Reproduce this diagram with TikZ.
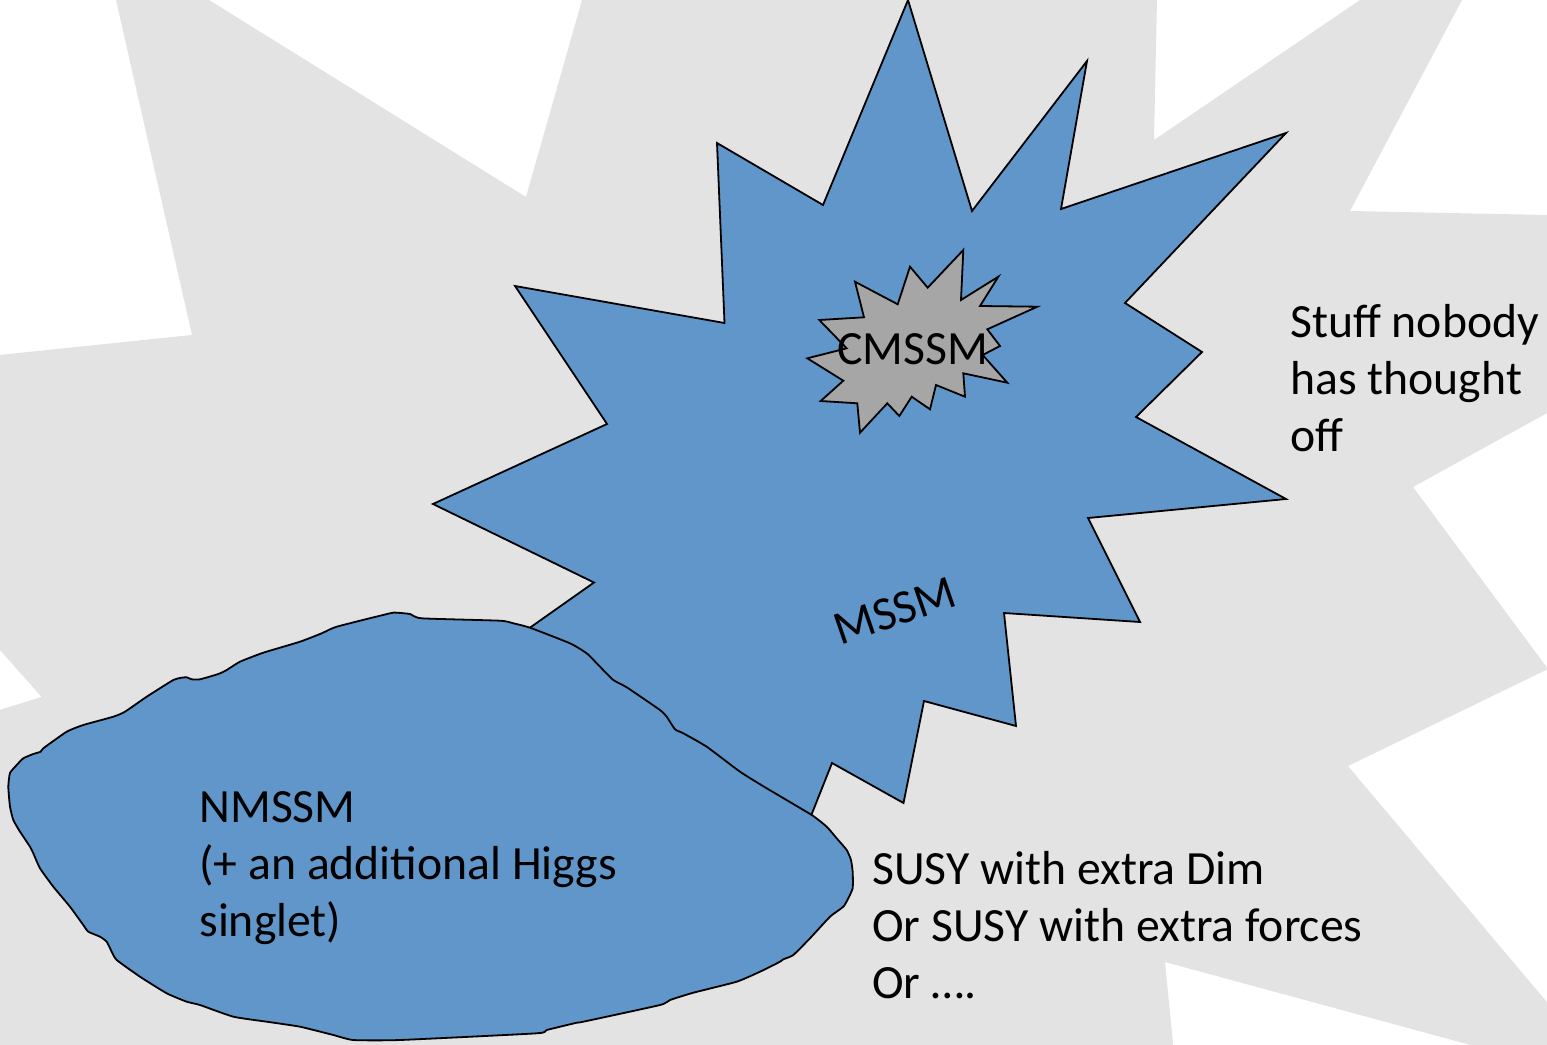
\documentclass[tikz,border=0pt]{standalone}
\usepackage{fontspec}
\setmainfont{Carlito}
\definecolor{bggray}{HTML}{E3E3E3}
\definecolor{skyblue}{HTML}{6096C9}
\definecolor{stargray}{HTML}{A6A6A6}
\begin{document}
\begin{tikzpicture}[x=0.5pt,y=-0.5pt,
  outline/.style={draw=black,line width=0.9pt,line join=miter,miter limit=20},
  bgstar/.style={fill=bggray},
  mssmstar/.style={outline,fill=skyblue},
  cmssmstar/.style={outline,fill=stargray},
  nmssmblob/.style={outline,fill=skyblue,line join=round},
  txt/.style={inner sep=0pt,font=\fontsize{23.85}{28.6}\selectfont},
]
\useasboundingbox (0,0) rectangle (1547,1044);
\begin{scope}
\clip (0,0) rectangle (1547,1044);
\fill[white] (0,0) rectangle (1547,1044);
% large light-grey explosion in the background
\fill[bgstar] (192,335) -- (111.5,-20) -- (176.8,-20) -- (526,197) -- (587.7,-20)
  -- (1157.4,-20) -- (1154,140) -- (1389.4,-20) -- (1472.6,-20) -- (1350,211)
  -- (1567,215.4) -- (1567,402) -- (1413,487) -- (1548,669) -- (1348,766)
  -- (1567,1026) -- (1567,1071) -- (1467,1044) -- (1165,962) -- (1175,1064)
  -- (-20,1064) -- (-20,716) -- (41.7,697) -- (-20,627.5) -- (-20,357) -- cycle;
% MSSM explosion
\draw[mssmstar] (908,0) -- (972,211) -- (1087,61) -- (1061,209) -- (1286,133)
  -- (1125,303) -- (1202,352) -- (1136,417) -- (1286,499) -- (1088,518)
  -- (1140,622) -- (1004,613) -- (1016,726) -- (924,701) -- (903.5,803)
  -- (832,763) -- (805,831) -- (700,800) -- (560,690) -- (516,637.5)
  -- (594,582.5) -- (433,504) -- (607,424) -- (515,286) -- (724.5,323)
  -- (717,143) -- (823,205) -- cycle;
% CMSSM explosion
\draw[cmssmstar] (963.3,250) -- (961,300) -- (998.3,276.7) -- (980,306)
  -- (1037.3,306.7) -- (987.3,329.3) -- (1000,346) -- (982.7,355)
  -- (1007.3,382.7) -- (963.3,373.3) -- (965,396.7) -- (936,385)
  -- (930,409.3) -- (911.7,396.7) -- (899.3,416) -- (887.3,403.3)
  -- (860,432.7) -- (857.3,403.3) -- (820.7,401) -- (843.3,380.7)
  -- (807.3,358.3) -- (846.7,348.3) -- (819.3,320) -- (864,317.3)
  -- (855,281.7) -- (897.7,304.3) -- (910,266.7) -- (927.7,287.7) -- cycle;
% NMSSM blob
\draw[nmssmblob] plot[smooth cycle,tension=0.3] coordinates {
  (8.3,786.7) (10,773) (16.7,765) (23.3,758.3) (33.3,754) (40.7,751.7)
  (43.3,748.3) (66.7,731.7) (83.3,725) (113.3,716.7) (125,711.7)
  (146.7,696.7) (173.3,680) (181.7,677.7) (186.7,677.3) (191.7,679.3)
  (200,679.3) (218.3,674) (226.7,670) (240,661.7) (263.3,652.7)
  (300,641.7) (321.7,633.3) (336.7,626.7) (390,613.3) (396.7,612.7)
  (410,614) (421.7,618.3) (500,620.7) (513.3,623.3) (530,627.7)
  (570,643.3) (586.7,653.3) (600,666.7) (613.3,680) (626.7,687.3)
  (660,710) (666.7,716.7) (675,729.3) (683.3,733.3) (706.7,746.7)
  (740,771.7) (766.7,788.3) (811.7,815) (826.7,826.7) (836.7,838.3)
  (846.7,850) (851,860) (852.7,872) (852.7,888) (848.3,898.3) (843.3,906.7)
  (830,916.7) (810,938.3) (793.3,955) (783.3,959.3) (780,961.7)
  (760,971.7) (736.7,981.7) (693.3,992.7) (670,1000) (660,1005)
  (583.3,1021.7) (576.7,1022.7) (546.7,1030) (536.7,1033.3) (400,1040)
  (353.3,1040) (333.3,1035) (300,1026.7) (266.7,1021.7) (233.3,1016.7)
  (200,1005) (186.7,1001.7) (166.7,993.3) (140,976.7) (116.7,960)
  (111.7,951.7) (106.7,941.7) (100,936.7) (88.3,931.7) (83.3,925)
  (70,906.7) (53.3,886.7) (40,868.3) (33.3,853.3) (30,846.7) (20,831.7)
  (13.3,820) (10,806.7)};
\end{scope}
% labels
\node[txt,anchor=base] (cmssm) at (912.5,364) {CMSSM};
\node[txt,rotate=19] (mssm) at (895,611) {MSSM};
\node[txt,anchor=base west] (nmssm) at (199,822.5)
  {\begin{tabular}[t]{@{}l@{}}NMSSM\\(+ an additional Higgs\\singlet)\end{tabular}};
\node[txt,anchor=base west] (stuff) at (1290,337)
  {\begin{tabular}[t]{@{}l@{}}Stuff nobody\\has thought\\off\end{tabular}};
\node[txt,anchor=base west] (susy) at (872,884.5)
  {\begin{tabular}[t]{@{}l@{}}SUSY with extra Dim\\Or SUSY with extra forces\\Or ….\end{tabular}};
\end{tikzpicture}
\end{document}
